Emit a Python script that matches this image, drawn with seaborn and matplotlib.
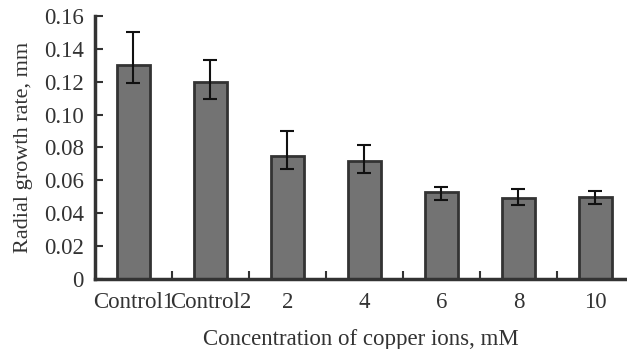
import numpy as np
import matplotlib
matplotlib.use("Agg")
import matplotlib.pyplot as plt
import seaborn as sns

categories = ["Control1", "Control2", "2", "4", "6", "8", "10"]
rates = [0.130, 0.120, 0.075, 0.0715, 0.053, 0.0495, 0.0497]
upper = [0.150, 0.1334, 0.0898, 0.0817, 0.0562, 0.0549, 0.0535]
lower = [0.1194, 0.1093, 0.0667, 0.0643, 0.0482, 0.0450, 0.0458]

sns.set_style("ticks")
plt.rcParams['font.family'] = ['Liberation Serif', 'DejaVu Serif']

fig = plt.figure(figsize=(6.27, 3.49), dpi=100)
ax = fig.add_axes([95 / 627, 70 / 349, 532 / 627, 263 / 349])

sns.barplot(x=categories, y=rates, color="#737373", saturation=1,
            width=0.43, edgecolor="#333333", linewidth=2, errorbar=None, ax=ax)

err = [np.array(rates) - np.array(lower), np.array(upper) - np.array(rates)]
ax.errorbar(np.arange(len(categories)), rates, yerr=err, fmt="none",
            ecolor="#111111", elinewidth=1.5, capsize=5, capthick=1.5)

ax.set_xlim(-0.5, 6.41)
ax.set_ylim(0, 0.16)
ax.set_yticks(np.arange(0, 0.161, 0.02))
ax.set_yticklabels(["0"] + [f"{v:.2f}" for v in np.arange(0.02, 0.161, 0.02)])
ax.set_xticks(np.arange(len(categories)))
ax.set_xticklabels(categories)
ax.tick_params(axis="x", length=0, labelsize=16.5, pad=9, labelcolor="#333333")
ax.set_xticks(np.arange(0.5, 6, 1), minor=True)
ax.tick_params(axis="x", which="minor", direction="in", length=6, width=1.5, color="#333333")
ax.tick_params(axis="y", direction="in", length=6, width=1.5, color="#333333",
               labelsize=16.5, pad=8, labelcolor="#333333")

for s in ["top", "right"]:
    ax.spines[s].set_visible(False)
for s in ["left", "bottom"]:
    ax.spines[s].set_linewidth(2.5)
    ax.spines[s].set_color("#333333")

ax.set_ylabel("Radial growth rate, mm", fontsize=16, color="#333333", labelpad=8)
ax.set_xlabel("Concentration of copper ions, mM", fontsize=16.5, color="#333333", labelpad=12)

fig.savefig("out.png", dpi=100)
